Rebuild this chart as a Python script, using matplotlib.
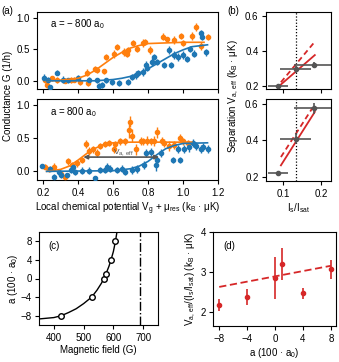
import matplotlib
matplotlib.use('Agg')
import matplotlib.pyplot as plt

plt.rcParams['font.family'] = ['Liberation Sans', 'DejaVu Sans']
plt.rcParams['mathtext.default'] = 'regular'
plt.rcParams['font.size'] = 7
plt.rcParams['axes.linewidth'] = 0.8
plt.rcParams['xtick.major.width'] = 0.8
plt.rcParams['ytick.major.width'] = 0.8
plt.rcParams['xtick.major.size'] = 3
plt.rcParams['ytick.major.size'] = 3
plt.rcParams['xtick.labelsize'] = 7
plt.rcParams['ytick.labelsize'] = 7
plt.rcParams['xtick.major.pad'] = 2.5
plt.rcParams['ytick.major.pad'] = 2.0

ORANGE = '#ff7f0e'
BLUE = '#1f77b4'
RED = '#d62728'
GREY = '#555555'

# ---- panel (a), a = -800 a0 ----
top_or_x = [0.213, 0.22, 0.25, 0.277, 0.325, 0.358, 0.377, 0.41, 0.45, 0.455, 0.498, 0.508,
            0.546, 0.56, 0.604, 0.62, 0.665, 0.677, 0.685, 0.715, 0.738, 0.773, 0.78, 0.81,
            0.883, 0.91, 0.946, 0.988, 1.00, 1.05, 1.075, 1.10, 1.14]
top_or_y = [0.01, -0.07, 0.04, 0.01, 0.0, 0.01, 0.02, -0.02, 0.13, -0.03, 0.19, 0.17,
            0.15, 0.38, 0.42, 0.54, 0.46, 0.43, 0.48, 0.60, 0.51, 0.60, 0.62, 0.49,
            0.70, 0.66, 0.65, 0.71, 0.60, 0.71, 0.85, 0.55, 0.69]
top_or_err = [0.05, 0.05, 0.04, 0.05, 0.04, 0.05, 0.04, 0.05, 0.05, 0.06, 0.05, 0.05,
              0.04, 0.05, 0.06, 0.05, 0.06, 0.05, 0.06, 0.04, 0.06, 0.06, 0.05, 0.06,
              0.05, 0.04, 0.06, 0.04, 0.05, 0.06, 0.06, 0.06, 0.05]
top_bl_x = [0.206, 0.23, 0.242, 0.28, 0.315, 0.344, 0.40, 0.46, 0.508, 0.52, 0.537, 0.56,
            0.594, 0.633, 0.685, 0.71, 0.73, 0.744, 0.773, 0.786, 0.796, 0.825, 0.835,
            0.854, 0.89, 0.92, 0.93, 0.95, 0.97, 0.998, 1.02, 1.04, 1.065, 1.10, 1.11, 1.13]
top_bl_y = [0.05, 0.02, -0.10, 0.13, 0.02, 0.01, 0.04, 0.02, 0.01, -0.08, -0.07, 0.01,
            -0.02, -0.04, -0.02, 0.06, 0.09, 0.12, 0.14, 0.25, 0.20, 0.30, 0.38,
            0.30, 0.25, 0.49, 0.25, 0.41, 0.38, 0.41, 0.35, 0.50, 0.43, 0.75, 0.70, 0.45]
top_bl_err = [0.05, 0.04, 0.04, 0.04, 0.05, 0.04, 0.05, 0.04, 0.04, 0.04, 0.05, 0.04,
              0.04, 0.05, 0.05, 0.05, 0.06, 0.05, 0.06, 0.06, 0.05, 0.06, 0.05,
              0.05, 0.04, 0.06, 0.05, 0.06, 0.06, 0.06, 0.05, 0.05, 0.06, 0.06, 0.06, 0.06]
top_or_fit_x = [0.22, 0.3, 0.4, 0.45, 0.5, 0.55, 0.6, 0.65, 0.7, 0.75, 0.8, 0.9, 1.0, 1.12]
top_or_fit_y = [0.0, 0.01, 0.04, 0.09, 0.17, 0.27, 0.37, 0.45, 0.52, 0.56, 0.59, 0.60, 0.61, 0.61]
top_bl_fit_x = [0.22, 0.5, 0.6, 0.65, 0.7, 0.75, 0.8, 0.85, 0.9, 0.95, 1.0, 1.05, 1.14]
top_bl_fit_y = [0.0, 0.0, 0.02, 0.04, 0.07, 0.12, 0.19, 0.27, 0.35, 0.43, 0.49, 0.54, 0.57]

# ---- panel (a), a = 800 a0 ----
bot_or_x = [0.21, 0.235, 0.26, 0.30, 0.325, 0.344, 0.363, 0.396, 0.42, 0.446, 0.46, 0.488,
            0.508, 0.523, 0.556, 0.575, 0.604, 0.613, 0.638, 0.67, 0.69, 0.696, 0.71, 0.73,
            0.758, 0.773, 0.796, 0.815, 0.835, 0.854, 0.877, 0.89, 0.92, 0.95, 0.98, 1.0, 1.027]
bot_or_y = [0.07, 0.03, 0.07, -0.04, -0.09, 0.15, 0.09, 0.12, 0.17, 0.41, 0.30, 0.33,
            0.28, 0.38, 0.41, 0.43, 0.34, 0.41, 0.45, 0.45, 0.63, 0.75, 0.54, 0.33,
            0.46, 0.45, 0.46, 0.45, 0.46, 0.59, 0.46, 0.43, 0.38, 0.39, 0.50, 0.45, 0.43]
bot_or_err = [0.04, 0.04, 0.05, 0.05, 0.04, 0.05, 0.05, 0.05, 0.05, 0.06, 0.06, 0.05,
              0.06, 0.05, 0.05, 0.05, 0.06, 0.05, 0.06, 0.05, 0.12, 0.08, 0.10, 0.08,
              0.06, 0.05, 0.07, 0.05, 0.08, 0.08, 0.06, 0.06, 0.07, 0.06, 0.07, 0.06, 0.05]
bot_bl_x = [0.196, 0.24, 0.26, 0.29, 0.305, 0.335, 0.358, 0.37, 0.383, 0.42, 0.46, 0.494,
            0.527, 0.556, 0.565, 0.585, 0.623, 0.652, 0.67, 0.71, 0.738, 0.777, 0.786,
            0.815, 0.846, 0.854, 0.873, 0.94, 0.97, 0.985, 1.008, 1.037, 1.056, 1.075,
            1.10, 1.113, 1.14]
bot_bl_y = [0.08, 0.04, -0.08, -0.01, -0.06, -0.06, 0.02, 0.07, -0.01, 0.01, 0.01, -0.10,
            0.02, 0.02, 0.07, 0.04, 0.02, 0.04, -0.01, 0.02, 0.04, 0.09, 0.28,
            0.29, 0.09, 0.17, 0.28, 0.17, 0.33, 0.17, 0.33, 0.36, 0.43, 0.38,
            0.33, 0.36, 0.33]
bot_bl_err = [0.03, 0.04, 0.04, 0.05, 0.04, 0.04, 0.05, 0.04, 0.05, 0.05, 0.05, 0.03,
              0.05, 0.05, 0.05, 0.05, 0.05, 0.05, 0.05, 0.06, 0.06, 0.06, 0.06,
              0.06, 0.08, 0.06, 0.06, 0.05, 0.06, 0.05, 0.06, 0.07, 0.06, 0.06,
              0.06, 0.06, 0.06]
bot_or_fit_x = [0.22, 0.3, 0.35, 0.4, 0.45, 0.5, 0.55, 0.6, 0.7, 0.85, 1.05]
bot_or_fit_y = [0.0, 0.03, 0.08, 0.17, 0.27, 0.35, 0.41, 0.43, 0.44, 0.44, 0.44]
bot_bl_fit_x = [0.22, 0.6, 0.7, 0.75, 0.8, 0.85, 0.9, 0.95, 1.0, 1.14]
bot_bl_fit_y = [0.0, 0.01, 0.04, 0.08, 0.15, 0.25, 0.34, 0.39, 0.42, 0.43]
arrow_x = [0.43, 0.863]
arrow_y = 0.215

# ---- panel (b) ----
b_x = [0.088, 0.133, 0.18]
b_xerr = [0.026, 0.04, 0.05]
b_top_y = [0.20, 0.293, 0.32]
b_top_yerr = [0.006, 0.02, 0.015]
b_bot_y = [0.226, 0.409, 0.576]
b_bot_yerr = [0.008, 0.03, 0.03]
b_top_solid = ([0.095, 0.183], [0.206, 0.376])
b_top_dash = ([0.095, 0.181], [0.219, 0.448])
b_bot_solid = ([0.095, 0.183], [0.265, 0.555])
b_bot_dash = ([0.095, 0.178], [0.31, 0.58])
b_sat = 0.133

# ---- panel (c) ----
c_curve_B = [350, 400, 425, 450, 475, 500, 527, 545, 560, 568, 575, 585, 592, 600, 607, 612]
c_curve_a = [-8.7, -8.4, -8.0, -7.3, -6.5, -5.4, -4.0, -2.5, -1.0, 0.0, 1.0, 2.6, 4.0, 5.8, 8.0, 10.0]
c_pts_B = [425, 527, 568, 575, 592, 607]
c_pts_a = [-8, -4, 0, 1, 4, 8]
c_res = 690

# ---- panel (d) ----
d_a = [-8, -4, 0, 1, 4, 8]
d_v = [2.17, 2.37, 2.85, 3.2, 2.47, 3.07]
d_err = [0.15, 0.2, 0.53, 0.4, 0.14, 0.23]
d_fit_a = [-8, 8]
d_fit_v = [2.63, 3.16]

fig = plt.figure(figsize=(3.39, 3.62), dpi=100)

def fig_box(l, t, r, b):
    W, H = 339.0, 362.0
    return [l / W, 1 - b / H, (r - l) / W, (b - t) / H]

ax1 = fig.add_axes(fig_box(37, 12, 218, 89))
ax2 = fig.add_axes(fig_box(37, 99, 218, 180))

ebkw = dict(fmt='o', ms=3, elinewidth=1.0, capsize=0, zorder=3)
for ax, ox, oy, oe, bx, by, be, ofx, ofy, bfx, bfy, label in [
        (ax1, top_or_x, top_or_y, top_or_err, top_bl_x, top_bl_y, top_bl_err,
         top_or_fit_x, top_or_fit_y, top_bl_fit_x, top_bl_fit_y, 'a = − 800 a$_0$'),
        (ax2, bot_or_x, bot_or_y, bot_or_err, bot_bl_x, bot_bl_y, bot_bl_err,
         bot_or_fit_x, bot_or_fit_y, bot_bl_fit_x, bot_bl_fit_y, 'a = 800 a$_0$')]:
    ax.errorbar(ox, oy, yerr=oe, color=ORANGE, **ebkw)
    ax.errorbar(bx, by, yerr=be, color=BLUE, **ebkw)
    ax.plot(ofx, ofy, color=ORANGE, lw=1.2, zorder=4)
    ax.plot(bfx, bfy, color=BLUE, lw=1.2, zorder=4)
    ax.set_xlim(0.165, 1.2)
    ax.set_ylim(-0.13, 1.09)
    ax.set_yticks([0.0, 0.5, 1.0])
    ax.set_xticks([0.2, 0.4, 0.6, 0.8, 1.0, 1.2])
    ax.text(0.07, 0.8, label, transform=ax.transAxes, fontsize=7)

ax1.tick_params(labelbottom=False)
ax2.annotate('', xy=(arrow_x[0], arrow_y), xytext=(arrow_x[1], arrow_y),
             arrowprops=dict(arrowstyle='<|-|>', color=GREY, lw=1.2, mutation_scale=6,
                             shrinkA=0, shrinkB=0), zorder=5)
ax2.text(0.6, arrow_y + 0.04, 'V$_{a,\\,eff}$', color=GREY, fontsize=6, zorder=5)
ax2.set_xlabel('Local chemical potential V$_g$ + μ$_{res}$ (k$_B$ · μK)', labelpad=2)
fig.text(0.025, 0.735, 'Conductance G (1/h)', rotation=90, ha='center', va='center')
fig.text(0.003, 0.962, '(a)', fontsize=7)
fig.text(0.672, 0.962, '(b)', fontsize=7)

# panel (b)
bx1 = fig.add_axes(fig_box(265.5, 12, 331, 89))
bx2 = fig.add_axes(fig_box(265.5, 99, 331, 181))
for ax, yy, ye, sol, das in [(bx1, b_top_y, b_top_yerr, b_top_solid, b_top_dash),
                             (bx2, b_bot_y, b_bot_yerr, b_bot_solid, b_bot_dash)]:
    ax.plot(sol[0], sol[1], color=RED, lw=1.3)
    ax.plot(das[0], das[1], color=RED, lw=1.3, ls=(0, (3, 2)))
    ax.errorbar(b_x, yy, xerr=b_xerr, yerr=ye, fmt='o', ms=3, color=GREY,
                elinewidth=1.2, capsize=0, zorder=3)
    ax.axvline(b_sat, color='black', lw=0.9, ls=(0, (1, 1.5)))
    ax.set_xlim(0.055, 0.225)
    ax.set_ylim(0.18, 0.625)
    ax.set_xticks([0.1, 0.2])
    ax.set_yticks([0.2, 0.4, 0.6])
bx1.tick_params(labelbottom=False)
bx2.set_xlabel('I$_s$/I$_{sat}$', labelpad=2)
fig.text(0.69, 0.735, 'Separation V$_{a,\\,eff}$ (k$_B$ · μK)', rotation=90,
         ha='center', va='center')

# panel (c)
cx = fig.add_axes(fig_box(39, 232, 158, 325))
cx.plot(c_curve_B, c_curve_a, color='black', lw=1.0)
cx.plot(c_pts_B, c_pts_a, 'o', mfc='white', mec='black', ms=4, mew=1.0)
cx.axvline(c_res, color='black', lw=1.0, ls='-.')
cx.set_xlim(350, 750)
cx.set_ylim(-10, 10)
cx.set_xticks([400, 500, 600, 700])
cx.set_yticks([-8, -4, 0, 4, 8])
cx.set_xlabel('Magnetic field (G)', labelpad=2)
cx.set_ylabel('a (100 · a$_0$)', labelpad=1)
cx.text(0.08, 0.82, '(c)', transform=cx.transAxes, fontsize=7)

# panel (d)
dx = fig.add_axes(fig_box(213.3, 232.3, 335.7, 326))
dx.errorbar(d_a, d_v, yerr=d_err, fmt='o', ms=3, color=RED, elinewidth=1.2, capsize=0)
dx.plot(d_fit_a, d_fit_v, color=RED, lw=1.3, ls=(0, (4, 2)))
dx.set_xlim(-8.85, 8.7)
dx.set_ylim(1.65, 4)
dx.set_xticks([-8, -4, 0, 4, 8])
dx.set_yticks([2, 3, 4])
dx.set_xlabel('a (100 · a$_0$)', labelpad=2)
dx.set_ylabel('V$_{a,\\,eff}$/(I$_s$/I$_{sat}$) (k$_B$ · μK)', labelpad=2)
dx.text(0.08, 0.82, '(d)', transform=dx.transAxes, fontsize=7)

fig.savefig('out.png', dpi=100)
